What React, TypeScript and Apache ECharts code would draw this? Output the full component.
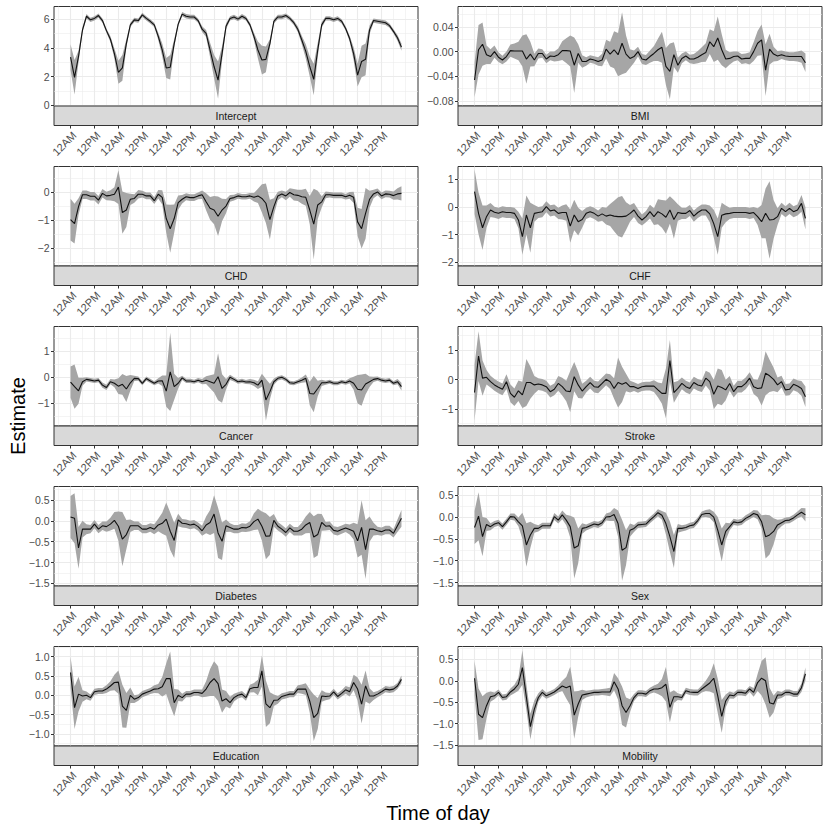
import React, { useEffect, useRef } from "react";
import * as echarts from "echarts";

// ---------- data ----------
// time points: every 2 hours over 7 days (hours since first midnight)
const hours: number[] = Array.from({ length: 84 }, (_, i) => i * 2);

const xMajorTicks = [0, 12, 24, 36, 48, 60, 72, 84, 96, 108, 120, 132, 144, 156];
const xMajorLabels = ["12AM", "12PM", "12AM", "12PM", "12AM", "12PM", "12AM", "12PM", "12AM", "12PM", "12AM", "12PM", "12AM", "12PM"];
const xMinorTicks = [-6, 6, 18, 30, 42, 54, 66, 78, 90, 102, 114, 126, 138, 150, 162, 168];

const panelNames = ["Intercept", "BMI", "CHD", "CHF", "Cancer", "Stroke", "Diabetes", "Sex", "Education", "Mobility"];

const interceptEst = [
  3.35, 1.95, 3.4, 5.25, 6.2, 5.95, 6.05, 6.25, 5.9, 5.2, 4.6, 3.6,
  2.3, 2.6, 4.3, 5.6, 5.95, 5.9, 6.3, 6.05, 5.85, 5.6, 4.8, 3.85,
  2.6, 2.65, 4.3, 5.65, 6.35, 6.2, 6.15, 6.15, 5.9, 5.3, 5.0, 3.85,
  2.7, 1.75, 3.6, 5.5, 6.05, 6.15, 6.0, 6.2, 6.05, 5.6, 4.8, 3.85,
  3.15, 3.2, 4.3, 5.85, 6.15, 6.15, 6.25, 6.05, 5.75, 5.3, 4.55, 3.75,
  2.7, 1.8, 3.85, 5.6, 6.05, 6.05, 5.95, 6.05, 5.85, 5.35, 4.65, 3.6,
  2.1, 3.05, 3.2, 5.25, 5.9, 5.85, 5.8, 5.75, 5.55, 5.15, 4.7, 4.05,
];
const interceptHalf = [
  0.9, 1.2, 0.4, 0.2, 0.15, 0.15, 0.15, 0.15, 0.15, 0.15, 0.2, 0.35,
  0.8, 0.9, 0.3, 0.15, 0.15, 0.15, 0.15, 0.15, 0.15, 0.15, 0.25, 0.45,
  0.7, 0.85, 0.3, 0.15, 0.15, 0.15, 0.15, 0.15, 0.15, 0.2, 0.25, 0.5,
  0.8, 1.3, 0.5, 0.2, 0.15, 0.15, 0.15, 0.15, 0.15, 0.15, 0.25, 0.6,
  1.0, 0.9, 0.3, 0.15, 0.15, 0.15, 0.15, 0.15, 0.15, 0.2, 0.3, 0.5,
  0.7, 1.1, 0.5, 0.2, 0.15, 0.15, 0.15, 0.15, 0.15, 0.15, 0.2, 0.45,
  0.8, 1.1, 1.1, 0.3, 0.15, 0.15, 0.15, 0.15, 0.15, 0.15, 0.2, 0.25,
];

const bmiEst = [
  -0.046, 0.003, 0.012, -0.005, -0.008, 0.0, -0.009, -0.0135, -0.008, 0.0016, 0.001, 0.001,
  0.001, -0.012, -0.004, -0.0135, -0.003, -0.003, -0.012, -0.007, -0.008, -0.005, 0.0016, 0.0016,
  0.001, -0.022, -0.003, -0.016, -0.016, -0.012, -0.0135, -0.016, -0.0135, 0.004, -0.004, 0.003,
  -0.005, 0.0135, -0.004, -0.011, -0.008, 0.0, -0.012, -0.0135, -0.008, -0.003, 0.003, 0.007,
  -0.024, -0.032, -0.005, -0.022, -0.011, -0.007, -0.012, -0.012, -0.009, -0.005, -0.0016, 0.016,
  0.008, 0.022, 0.003, -0.012, -0.011, -0.008, -0.007, -0.012, -0.011, -0.011, 0.0, 0.0135,
  0.019, -0.03, 0.004, -0.004, -0.007, -0.005, -0.007, -0.008, -0.008, -0.008, -0.008, -0.018,
];
const bmiHalf = [
  0.028, 0.04, 0.035, 0.015, 0.012, 0.01, 0.008, 0.007, 0.008, 0.01, 0.012, 0.015,
  0.025, 0.04, 0.02, 0.01, 0.008, 0.007, 0.007, 0.007, 0.008, 0.01, 0.015, 0.02,
  0.025, 0.045, 0.015, 0.01, 0.007, 0.006, 0.006, 0.007, 0.01, 0.015, 0.02, 0.03,
  0.035, 0.05, 0.03, 0.015, 0.01, 0.008, 0.008, 0.008, 0.01, 0.012, 0.018, 0.025,
  0.03, 0.045, 0.02, 0.012, 0.008, 0.007, 0.007, 0.008, 0.01, 0.012, 0.015, 0.02,
  0.025, 0.035, 0.025, 0.015, 0.01, 0.008, 0.007, 0.008, 0.008, 0.01, 0.015, 0.02,
  0.025, 0.042, 0.025, 0.012, 0.008, 0.007, 0.007, 0.007, 0.007, 0.008, 0.01, 0.015,
];

const chdEst = [
  -0.98, -1.12, -0.52, -0.1, -0.1, -0.15, -0.15, -0.29, -0.05, -0.14, -0.12, -0.08,
  0.17, -0.73, -0.64, -0.26, -0.23, -0.08, -0.08, -0.14, -0.14, -0.31, -0.08, -0.19,
  -0.94, -1.3, -0.94, -0.38, -0.26, -0.17, -0.2, -0.2, -0.14, -0.1, -0.35, -0.58,
  -0.64, -0.86, -0.64, -0.5, -0.23, -0.2, -0.14, -0.17, -0.17, -0.14, -0.19, -0.14,
  -0.23, -0.4, -0.98, -0.52, -0.14, -0.07, -0.14, -0.02, -0.1, -0.12, -0.17, -0.19,
  -0.64, -1.14, -0.46, -0.35, -0.1, -0.1, -0.12, -0.12, -0.12, -0.17, -0.12, -0.19,
  -1.06, -1.3, -0.76, -0.26, -0.07, 0.0, -0.14, -0.07, -0.08, -0.13, -0.07, -0.05,
];
const chdHalf = [
  0.74, 0.7, 0.3, 0.15, 0.15, 0.15, 0.15, 0.15, 0.15, 0.15, 0.18, 0.25,
  0.6, 0.75, 0.6, 0.2, 0.15, 0.15, 0.12, 0.12, 0.12, 0.12, 0.15, 0.25,
  0.5, 0.85, 0.5, 0.25, 0.15, 0.12, 0.12, 0.12, 0.12, 0.15, 0.3, 0.4,
  0.5, 0.7, 0.4, 0.25, 0.12, 0.1, 0.1, 0.1, 0.1, 0.1, 0.15, 0.25,
  0.5, 0.7, 0.7, 0.3, 0.15, 0.12, 0.15, 0.15, 0.2, 0.2, 0.25, 0.3,
  0.5, 1.25, 0.5, 0.2, 0.12, 0.1, 0.1, 0.1, 0.1, 0.1, 0.12, 0.2,
  0.5, 0.7, 0.9, 0.3, 0.15, 0.12, 0.12, 0.12, 0.12, 0.15, 0.2, 0.25,
];

const chfEst = [
  0.55, -0.23, -0.75, -0.35, -0.11, -0.19, -0.23, -0.17, -0.2, -0.2, -0.23, -0.47,
  -1.07, -0.29, -0.75, -0.23, -0.2, -0.17, 0.01, -0.14, -0.11, -0.23, -0.2, -0.2,
  -0.69, -0.29, -0.53, -0.45, -0.23, -0.17, -0.23, -0.33, -0.25, -0.33, -0.29, -0.33,
  -0.35, -0.35, -0.33, -0.23, -0.11, -0.33, -0.47, -0.35, -0.17, -0.35, -0.17, -0.25,
  -0.37, -0.11, -0.45, -0.2, -0.23, -0.23, -0.13, -0.33, -0.2, -0.11, -0.11, -0.25,
  -0.6, -1.07, -0.3, -0.25, -0.23, -0.2, -0.2, -0.2, -0.2, -0.23, -0.2, -0.35,
  -0.53, -0.23, -0.47, -0.45, -0.35, -0.05, -0.17, -0.05, -0.17, -0.11, 0.13, -0.41,
];
const chfHalf = [
  0.8, 0.75, 0.8, 0.4, 0.25, 0.2, 0.2, 0.2, 0.2, 0.2, 0.2, 0.3,
  0.65, 0.7, 0.9, 0.3, 0.2, 0.2, 0.2, 0.2, 0.2, 0.2, 0.25, 0.3,
  0.6, 0.55, 0.5, 0.3, 0.2, 0.2, 0.2, 0.2, 0.25, 0.3, 0.4, 0.55,
  0.7, 0.75, 0.5, 0.3, 0.25, 0.25, 0.2, 0.2, 0.25, 0.3, 0.45, 0.5,
  0.6, 0.5, 0.7, 0.3, 0.2, 0.2, 0.2, 0.2, 0.2, 0.2, 0.2, 0.3,
  0.5, 0.65, 0.45, 0.3, 0.2, 0.2, 0.2, 0.2, 0.2, 0.2, 0.2, 0.3,
  0.6, 0.9, 1.4, 0.7, 0.3, 0.2, 0.2, 0.2, 0.2, 0.2, 0.3, 0.4,
];

const cancerEst = [
  -0.2, -0.37, -0.53, -0.18, -0.09, -0.12, -0.15, -0.12, -0.31, -0.4, -0.18, -0.24,
  -0.35, -0.28, -0.46, -0.22, -0.05, -0.06, -0.24, -0.06, -0.15, -0.24, -0.15, -0.14,
  -0.54, 0.2, -0.37, -0.24, -0.03, -0.15, -0.15, -0.18, -0.12, -0.18, -0.12, -0.18,
  -0.24, 0.01, -0.44, -0.28, -0.01, -0.09, -0.18, -0.15, -0.19, -0.18, -0.22, -0.31,
  -0.12, -0.88, -0.56, -0.18, -0.05, -0.01, -0.09, -0.22, -0.24, -0.18, -0.12, -0.05,
  -0.63, -0.65, -0.44, -0.22, -0.22, -0.18, -0.24, -0.24, -0.18, -0.22, -0.15, -0.24,
  -0.47, -0.5, -0.27, -0.18, -0.09, -0.06, -0.12, -0.15, -0.12, -0.24, -0.18, -0.37,
];
const cancerHalf = [
  0.6, 0.85, 0.5, 0.15, 0.08, 0.08, 0.08, 0.08, 0.1, 0.1, 0.1, 0.15,
  0.3, 0.4, 0.5, 0.3, 0.1, 0.08, 0.08, 0.08, 0.08, 0.08, 0.1, 0.2,
  0.6, 1.5, 0.5, 0.2, 0.08, 0.08, 0.08, 0.08, 0.08, 0.1, 0.15, 0.25,
  0.35, 0.9, 0.55, 0.2, 0.1, 0.08, 0.08, 0.08, 0.08, 0.1, 0.12, 0.15,
  0.25, 0.8, 0.3, 0.12, 0.08, 0.08, 0.08, 0.08, 0.08, 0.08, 0.1, 0.15,
  0.45, 0.7, 0.3, 0.12, 0.08, 0.08, 0.08, 0.08, 0.08, 0.08, 0.1, 0.25,
  0.55, 0.6, 0.4, 0.2, 0.1, 0.08, 0.08, 0.08, 0.08, 0.08, 0.1, 0.15,
];

const strokeEst = [
  -0.44, 0.8, 0.05, 0.08, -0.07, -0.18, -0.26, -0.33, -0.07, -0.47, -0.6, -0.38,
  -0.52, -0.1, -0.1, -0.18, -0.15, -0.18, -0.24, -0.41, -0.33, -0.13, -0.24, -0.39,
  -0.41, 0.1, -0.18, -0.39, -0.24, -0.1, -0.24, -0.26, -0.13, 0.01, -0.07, -0.3,
  -0.1, -0.16, -0.1, -0.24, -0.24, -0.3, -0.24, -0.22, -0.22, -0.22, -0.35, -0.47,
  -0.47, 0.65, -0.44, -0.3, -0.13, -0.24, -0.3, -0.1, -0.18, -0.22, 0.05, -0.07,
  -0.5, -0.22, -0.27, -0.35, -0.13, -0.41, -0.24, -0.24, -0.13, 0.05, -0.24, -0.3,
  -0.28, 0.22, 0.13, 0.01, -0.18, -0.07, -0.35, -0.33, -0.16, -0.22, -0.3, -0.58,
];
const strokeHalf = [
  0.95, 0.85, 0.6, 0.25, 0.2, 0.2, 0.2, 0.2, 0.25, 0.3, 0.3, 0.35,
  0.45, 0.8, 0.55, 0.3, 0.2, 0.2, 0.2, 0.2, 0.2, 0.25, 0.3, 0.35,
  0.7, 0.5, 0.45, 0.25, 0.2, 0.2, 0.2, 0.2, 0.2, 0.2, 0.25, 0.35,
  0.85, 0.6, 0.3, 0.2, 0.15, 0.15, 0.15, 0.15, 0.15, 0.2, 0.25, 0.35,
  0.85, 0.7, 0.35, 0.25, 0.2, 0.2, 0.2, 0.2, 0.2, 0.2, 0.25, 0.3,
  0.5, 0.6, 0.6, 0.35, 0.25, 0.2, 0.2, 0.2, 0.2, 0.2, 0.25, 0.3,
  0.6, 0.75, 0.55, 0.4, 0.25, 0.2, 0.2, 0.2, 0.2, 0.2, 0.25, 0.35,
];

const diabetesEst = [
  0.09, 0.06, -0.65, -0.2, -0.2, -0.2, -0.08, -0.2, -0.12, -0.14, -0.08, 0.01,
  -0.13, -0.44, -0.33, -0.12, -0.12, -0.12, -0.2, -0.2, -0.16, -0.2, -0.1, -0.06,
  0.04, -0.25, -0.47, 0.02, -0.06, -0.07, -0.1, -0.08, -0.14, -0.24, -0.1, -0.04,
  0.16, -0.29, -0.49, -0.12, -0.16, -0.2, -0.2, -0.16, -0.17, -0.13, -0.02, 0.04,
  -0.13, -0.37, -0.36, 0.01, -0.13, -0.2, -0.28, -0.17, -0.25, -0.25, -0.2, -0.1,
  -0.04, -0.39, -0.33, -0.04, -0.13, -0.12, -0.23, -0.25, -0.21, -0.17, -0.21, -0.25,
  -0.48, -0.16, -0.69, -0.2, -0.2, -0.24, -0.26, -0.22, -0.22, -0.3, -0.12, 0.06,
];
const diabetesHalf = [
  0.5, 0.6, 0.5, 0.2, 0.12, 0.1, 0.1, 0.1, 0.1, 0.12, 0.15, 0.2,
  0.35, 0.65, 0.35, 0.15, 0.1, 0.1, 0.1, 0.1, 0.1, 0.12, 0.15, 0.25,
  0.4, 0.45, 0.42, 0.15, 0.1, 0.1, 0.1, 0.1, 0.1, 0.12, 0.2, 0.3,
  0.45, 0.6, 0.45, 0.15, 0.1, 0.1, 0.1, 0.1, 0.1, 0.12, 0.2, 0.25,
  0.35, 0.55, 0.45, 0.15, 0.1, 0.1, 0.1, 0.1, 0.1, 0.1, 0.15, 0.2,
  0.25, 0.5, 0.5, 0.2, 0.1, 0.1, 0.1, 0.1, 0.1, 0.1, 0.12, 0.2,
  0.4, 0.65, 0.7, 0.3, 0.15, 0.1, 0.1, 0.1, 0.1, 0.1, 0.15, 0.2,
];

const sexEst = [
  -0.24, 0.02, -0.45, -0.17, -0.22, -0.16, -0.13, -0.22, -0.11, 0.01, 0.0, -0.11,
  -0.2, -0.64, -0.41, -0.26, -0.26, -0.2, -0.2, -0.2, 0.01, -0.07, 0.05, -0.07,
  -0.22, -0.71, -0.66, -0.26, -0.24, -0.2, -0.16, -0.18, -0.13, 0.0, 0.01, 0.06,
  -0.15, -0.76, -0.7, -0.3, -0.26, -0.18, -0.17, -0.16, -0.07, 0.01, 0.1, 0.04,
  -0.15, -0.45, -0.79, -0.26, -0.26, -0.24, -0.2, -0.18, -0.08, 0.06, 0.08, 0.08,
  0.0, -0.3, -0.64, -0.33, -0.22, -0.11, -0.13, -0.11, -0.03, 0.02, 0.08, 0.05,
  -0.11, -0.45, -0.41, -0.33, -0.18, -0.13, -0.08, -0.07, -0.02, 0.05, 0.11, 0.05,
];
const sexHalf = [
  0.38, 0.55, 0.45, 0.15, 0.08, 0.07, 0.07, 0.07, 0.07, 0.07, 0.08, 0.1,
  0.3, 0.5, 0.3, 0.1, 0.07, 0.07, 0.07, 0.07, 0.08, 0.08, 0.1, 0.12,
  0.25, 0.7, 0.4, 0.12, 0.07, 0.07, 0.07, 0.07, 0.07, 0.08, 0.1, 0.15,
  0.3, 0.7, 0.4, 0.15, 0.08, 0.07, 0.07, 0.07, 0.07, 0.07, 0.08, 0.1,
  0.25, 0.35, 0.38, 0.1, 0.07, 0.07, 0.07, 0.07, 0.07, 0.07, 0.08, 0.1,
  0.12, 0.3, 0.38, 0.2, 0.08, 0.07, 0.07, 0.07, 0.07, 0.07, 0.08, 0.1,
  0.15, 0.5, 0.45, 0.3, 0.12, 0.08, 0.07, 0.07, 0.07, 0.08, 0.1, 0.15,
];

const educationEst = [
  0.59, -0.32, 0.03, -0.02, 0.0, -0.06, 0.09, 0.11, 0.11, 0.16, 0.24, 0.33,
  0.34, -0.28, -0.39, 0.0, -0.1, -0.06, 0.03, 0.07, 0.11, 0.16, 0.17, 0.22,
  0.43, 0.43, -0.19, 0.0, -0.06, 0.03, 0.03, 0.07, 0.07, 0.05, 0.16, 0.33,
  0.43, 0.3, -0.15, -0.09, -0.19, -0.06, 0.0, 0.03, -0.06, 0.17, 0.2, 0.2,
  0.63, -0.22, -0.32, -0.13, -0.12, -0.03, 0.0, 0.03, 0.03, 0.16, 0.16, 0.16,
  -0.15, -0.58, -0.47, -0.02, -0.03, -0.02, 0.09, -0.03, 0.05, 0.14, 0.09, 0.33,
  0.16, -0.23, 0.24, -0.02, -0.02, 0.03, 0.09, 0.16, 0.14, 0.16, 0.24, 0.41,
];
const educationHalf = [
  0.4, 0.55, 0.45, 0.15, 0.1, 0.08, 0.08, 0.08, 0.08, 0.1, 0.12, 0.2,
  0.3, 0.55, 0.45, 0.2, 0.1, 0.08, 0.08, 0.08, 0.08, 0.1, 0.12, 0.25,
  0.4, 0.7, 0.35, 0.15, 0.1, 0.08, 0.08, 0.08, 0.08, 0.1, 0.2, 0.35,
  0.45, 0.45, 0.3, 0.2, 0.15, 0.1, 0.08, 0.08, 0.08, 0.1, 0.12, 0.2,
  0.4, 0.6, 0.4, 0.15, 0.1, 0.08, 0.08, 0.08, 0.08, 0.1, 0.12, 0.15,
  0.3, 0.6, 0.4, 0.15, 0.1, 0.08, 0.08, 0.08, 0.08, 0.1, 0.12, 0.2,
  0.3, 0.5, 0.4, 0.2, 0.1, 0.08, 0.08, 0.08, 0.08, 0.08, 0.08, 0.1,
];

const mobilityEst = [
  0.06, -0.78, -0.86, -0.58, -0.37, -0.35, -0.27, -0.39, -0.37, -0.26, -0.19, -0.08,
  0.31, -0.38, -1.07, -0.66, -0.39, -0.27, -0.35, -0.31, -0.26, -0.19, -0.12, -0.16,
  -0.12, -0.8, -0.54, -0.33, -0.31, -0.29, -0.27, -0.27, -0.26, -0.26, -0.26, -0.02,
  -0.19, -0.58, -0.74, -0.58, -0.39, -0.29, -0.29, -0.31, -0.23, -0.19, -0.19, -0.16,
  -0.08, -0.62, -0.37, -0.37, -0.39, -0.23, -0.26, -0.27, -0.27, -0.19, -0.12, -0.05,
  0.06, -0.35, -0.83, -0.47, -0.33, -0.35, -0.27, -0.27, -0.29, -0.19, -0.27, -0.04,
  0.06, 0.0, -0.51, -0.54, -0.33, -0.33, -0.27, -0.27, -0.31, -0.31, -0.16, 0.16,
];
const mobilityHalf = [
  0.4, 0.6, 0.5, 0.3, 0.12, 0.08, 0.07, 0.07, 0.07, 0.08, 0.1, 0.15,
  0.4, 0.3, 0.3, 0.2, 0.1, 0.08, 0.07, 0.07, 0.07, 0.08, 0.12, 0.25,
  0.45, 0.55, 0.3, 0.12, 0.08, 0.07, 0.07, 0.07, 0.07, 0.08, 0.1, 0.2,
  0.25, 0.45, 0.35, 0.15, 0.08, 0.07, 0.07, 0.07, 0.07, 0.08, 0.12, 0.2,
  0.4, 0.35, 0.15, 0.08, 0.07, 0.07, 0.07, 0.07, 0.07, 0.08, 0.12, 0.2,
  0.35, 0.4, 0.38, 0.15, 0.08, 0.07, 0.07, 0.07, 0.07, 0.07, 0.1, 0.2,
  0.4, 0.55, 0.35, 0.2, 0.1, 0.07, 0.07, 0.07, 0.07, 0.07, 0.1, 0.15,
];

const estimates = [interceptEst, bmiEst, chdEst, chfEst, cancerEst, strokeEst, diabetesEst, sexEst, educationEst, mobilityEst];
const halfWidths = [interceptHalf, bmiHalf, chdHalf, chfHalf, cancerHalf, strokeHalf, diabetesHalf, sexHalf, educationHalf, mobilityHalf];

// y axis: limits, major ticks, minor grid lines, decimals of tick labels
const yLimits = [
  [-0.05, 6.88], [-0.088, 0.073], [-2.62, 0.9], [-2.13, 1.46], [-1.88, 1.94],
  [-1.58, 1.81], [-1.56, 0.82], [-1.58, 0.7], [-1.31, 1.26], [-1.52, 0.8],
];
const yMajorTicks = [
  [0, 2, 4, 6], [-0.08, -0.04, 0, 0.04], [-2, -1, 0], [-2, -1, 0, 1], [-1, 0, 1],
  [-1, 0, 1], [-1.5, -1, -0.5, 0, 0.5], [-1.5, -1, -0.5, 0, 0.5], [-1, -0.5, 0, 0.5, 1], [-1.5, -1, -0.5, 0, 0.5],
];
const yMinorTicks = [
  [1, 3, 5], [-0.06, -0.02, 0.02, 0.06], [-2.5, -1.5, -0.5, 0.5], [-1.5, -0.5, 0.5], [-1.5, -0.5, 0.5, 1.5],
  [-1.5, -0.5, 0.5, 1.5], [-1.25, -0.75, -0.25, 0.25, 0.75], [-1.25, -0.75, -0.25, 0.25], [-1.25, -0.75, -0.25, 0.25, 0.75, 1.25], [-1.25, -0.75, -0.25, 0.25, 0.75],
];
const yDecimals = [0, 2, 0, 0, 0, 0, 1, 1, 1, 1];

const X_MIN = -8.3;
const X_MAX = 174.3;

const FONT = "'Liberation Sans', Arial, Helvetica, sans-serif";

function fmtY(v: number, dec: number): string {
  const r = Math.round(v * 1e6) / 1e6;
  const s = Math.abs(r).toFixed(dec);
  return (r < 0 ? "\u2212" : "") + s;
}

export default function App() {
  const ref = useRef<HTMLDivElement>(null);

  useEffect(() => {
    if (!ref.current) return;
    const chart = echarts.init(ref.current, null, { renderer: "svg" });

    const grids: any[] = [];
    const xAxes: any[] = [];
    const yAxes: any[] = [];
    const series: any[] = [];
    const graphics: any[] = [];

    const PANEL_W = 364;
    const PANEL_H = 99.5;
    const STRIP_H = 19.5;

    panelNames.forEach((name, k) => {
      const col = k % 2;
      const row = Math.floor(k / 2);
      const left = col === 0 ? 54 : 458;
      const top = 6.5 + 160 * row;

      grids.push({
        left,
        top,
        width: PANEL_W,
        height: PANEL_H,
        show: true,
        borderColor: "#333333",
        borderWidth: 1,
        backgroundColor: "#FFFFFF",
        containLabel: false,
        outerBoundsMode: "none",
      });

      // main x axis (ticks, labels, major grid)
      xAxes.push({
        type: "value",
        gridIndex: k,
        min: X_MIN,
        max: X_MAX,
        position: "bottom",
        offset: STRIP_H,
        axisLine: { show: false, onZero: false },
        axisTick: {
          show: true,
          length: 3,
          customValues: xMajorTicks,
          lineStyle: { color: "#333333", width: 1 },
        },
        axisLabel: {
          show: true,
          customValues: xMajorTicks,
          rotate: 45,
          margin: 4,
          align: "right",
          verticalAlign: "top",
          fontSize: 11,
          fontFamily: FONT,
          color: "#4D4D4D",
          formatter: (v: number) => xMajorLabels[xMajorTicks.indexOf(Math.round(v))] ?? "",
        },
        splitLine: { show: true, lineStyle: { color: "#EBEBEB", width: 1.1 } },
      });
      // minor x grid
      xAxes.push({
        type: "value",
        gridIndex: k,
        min: X_MIN,
        max: X_MAX,
        position: "top",
        axisLine: { show: false, onZero: false },
        axisTick: { show: false, customValues: xMinorTicks },
        axisLabel: { show: false, customValues: xMinorTicks },
        splitLine: { show: true, lineStyle: { color: "#EBEBEB", width: 0.55 } },
      });

      const [ymin, ymax] = yLimits[k];
      const dec = yDecimals[k];
      yAxes.push({
        type: "value",
        gridIndex: k,
        min: ymin,
        max: ymax,
        position: "left",
        axisLine: { show: false, onZero: false },
        axisTick: {
          show: true,
          length: 3,
          customValues: yMajorTicks[k],
          lineStyle: { color: "#333333", width: 1 },
        },
        axisLabel: {
          show: true,
          customValues: yMajorTicks[k],
          margin: 4.5,
          fontSize: 10.5,
          fontFamily: FONT,
          color: "#4D4D4D",
          formatter: (v: number) => fmtY(v, dec),
        },
        splitLine: { show: true, lineStyle: { color: "#EBEBEB", width: 1.1 } },
      });
      yAxes.push({
        type: "value",
        gridIndex: k,
        min: ymin,
        max: ymax,
        position: "right",
        axisLine: { show: false, onZero: false },
        axisTick: { show: false, customValues: yMinorTicks[k] },
        axisLabel: { show: false, customValues: yMinorTicks[k] },
        splitLine: { show: true, lineStyle: { color: "#EBEBEB", width: 0.55 } },
      });

      const est = estimates[k];
      const half = halfWidths[k];
      const ribbonData = hours.map((h, i) => [h, est[i] - half[i], est[i] + half[i]]);

      series.push({
        type: "custom",
        xAxisIndex: 2 * k,
        yAxisIndex: 2 * k,
        data: ribbonData,
        encode: { x: 0, y: [1, 2] },
        silent: true,
        z: 2,
        renderItem: (params: any, api: any) => {
          if (params.dataIndex !== 0) return null;
          const upper = ribbonData.map((d) => api.coord([d[0], d[2]]));
          const lower = ribbonData.map((d) => api.coord([d[0], d[1]])).reverse();
          return {
            type: "polygon",
            shape: { points: upper.concat(lower) },
            style: { fill: "#A6A6A6", stroke: "none" },
          };
        },
      });

      series.push({
        type: "line",
        xAxisIndex: 2 * k,
        yAxisIndex: 2 * k,
        data: hours.map((h, i) => [h, est[i]]),
        showSymbol: false,
        symbol: "none",
        silent: true,
        z: 3,
        lineStyle: { color: "#111111", width: 1.1 },
      });

      // strip (facet label) below each panel
      graphics.push({
        type: "rect",
        shape: { x: left, y: top + PANEL_H, width: PANEL_W, height: STRIP_H },
        style: { fill: "#D9D9D9", stroke: "#333333", lineWidth: 1 },
        silent: true,
        z: 10,
      });
      graphics.push({
        type: "text",
        x: left + PANEL_W / 2,
        y: top + PANEL_H + STRIP_H / 2,
        style: {
          text: name,
          fill: "#1A1A1A",
          fontSize: 10.5,
          fontFamily: FONT,
          align: "center",
          verticalAlign: "middle",
        },
        silent: true,
        z: 11,
      });
    });

    graphics.push({
      type: "text",
      x: 18,
      y: 416,
      rotation: Math.PI / 2,
      style: {
        text: "Estimate",
        fill: "#000000",
        fontSize: 20,
        fontFamily: FONT,
        align: "center",
        verticalAlign: "middle",
      },
      silent: true,
    });
    graphics.push({
      type: "text",
      x: 438,
      y: 813,
      style: {
        text: "Time of day",
        fill: "#000000",
        fontSize: 20,
        fontFamily: FONT,
        align: "center",
        verticalAlign: "middle",
      },
      silent: true,
    });

    chart.setOption({
      animation: false,
      backgroundColor: "#FFFFFF",
      grid: grids,
      xAxis: xAxes,
      yAxis: yAxes,
      series,
      graphic: graphics,
    });

    return () => {
      chart.dispose();
    };
  }, []);

  return (
    <div
      ref={ref}
      style={{ position: "fixed", left: 0, top: 0, width: 830, height: 830, background: "#FFFFFF" }}
    />
  );
}
